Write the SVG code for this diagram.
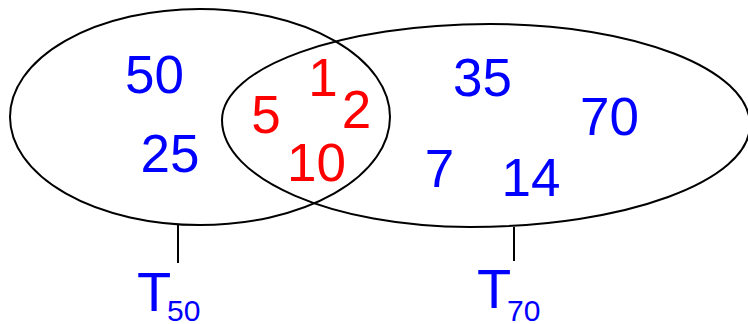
<svg xmlns="http://www.w3.org/2000/svg" width="748" height="324" viewBox="0 0 748 324">
<style>
.set{fill:none;stroke:#000;stroke-width:2}
.tick{stroke:#000;stroke-width:2}
text{font-family:"Liberation Sans",Arial,sans-serif}
.num{font-size:53px;text-anchor:middle}
.b{fill:#0000FF}
.r{fill:#FF0000}
.lbl{font-size:56px;fill:#0000FF}
.sub{font-size:30px;fill:#0000FF}
</style>
<rect width="748" height="324" fill="#fff"/>
<g id="set-T50">
<ellipse class="set" cx="200" cy="117" rx="190" ry="108"/>
</g>
<g id="set-T70">
<path class="set" d="M222,120 C222,67 342,24 490,24 C634,24 750,69 750,125 C750,181 625,227 470,227 C333,227 222,179 222,120 Z"/>
</g>
<g id="connectors">
<line class="tick" x1="178" y1="225" x2="178" y2="263"/>
<line class="tick" x1="514" y1="227" x2="514" y2="261"/>
</g>
<g id="only-T50">
<text class="num b" x="154.5" y="93">50</text>
<text class="num b" x="170" y="172">25</text>
</g>
<g id="both">
<text class="num r" x="323" y="96">1</text>
<text class="num r" x="266" y="133">5</text>
<text class="num r" x="356.5" y="128">2</text>
<text class="num r" x="316.5" y="181">10</text>
</g>
<g id="only-T70">
<text class="num b" x="482.5" y="96">35</text>
<text class="num b" x="609.5" y="135">70</text>
<text class="num b" x="439.5" y="187">7</text>
<text class="num b" x="531" y="196">14</text>
</g>
<g id="label-T50">
<text x="137" y="311"><tspan class="lbl">T</tspan><tspan class="sub" x="167" y="321">50</tspan></text>
</g>
<g id="label-T70">
<text x="477" y="308"><tspan class="lbl">T</tspan><tspan class="sub" x="507" y="321">70</tspan></text>
</g>
</svg>
